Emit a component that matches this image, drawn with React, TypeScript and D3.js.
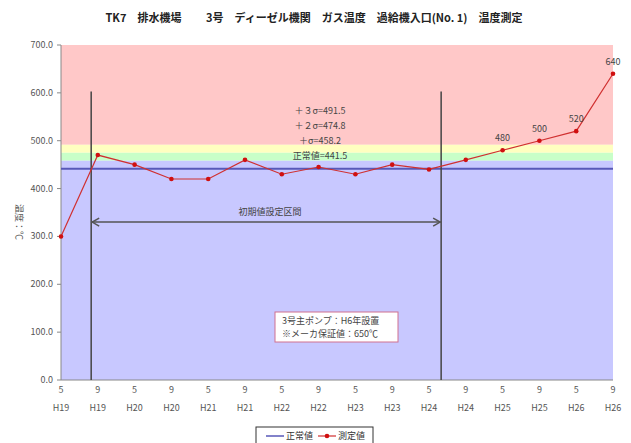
import React from "react";
import * as d3 from "d3";

const months = ["5","9","5","9","5","9","5","9","5","9","5","9","5","9","5","9"];
const years = ["H19","H19","H20","H20","H21","H21","H22","H22","H23","H23","H24","H24","H25","H25","H26","H26"];
const measured = [300,470,450,420,420,460,430,445,430,450,440,460,480,500,520,640];
const labeledIdx = [12,13,14,15];
const normalValue = 441.5;
const sigma1 = 458.2;
const sigma2 = 474.8;
const sigma3 = 491.5;
const yTicks = [0,100,200,300,400,500,600,700];
const bandTexts = ["＋３σ=491.5","＋２σ=474.8","＋σ=458.2","正常値=441.5"];
const intervalStart = 0.82;
const intervalEnd = 10.33;
const title = "TK7　排水機場　　 3号　ディーゼル機関　ガス温度　過給機入口(No. 1)　温度測定";

const W = 631, H = 443;
const FONT = "'Noto Sans CJK JP', 'Noto Sans', sans-serif";

export default function App() {
  const x = d3.scaleLinear().domain([0, measured.length - 1]).range([61, 613]);
  const y = d3.scaleLinear().domain([0, 700]).range([380, 45]);
  const line = d3.line<number>().x((_, i) => x(i)).y(d => y(d));
  const xi0 = x(intervalStart), xi1 = x(intervalEnd);
  const arrowY = y(330);
  return (
    <svg width={W} height={H} style={{ position: "absolute", left: 0, top: 0, fontFamily: FONT }}>
      <rect x={0} y={0} width={W} height={H} fill="#fff" />
      <text x={314} y={22} textAnchor="middle" fontSize={11} fontWeight="bold" fill="#222">{title}</text>
      {/* bands */}
      <rect x={x(0)} y={y(700)} width={x(15) - x(0)} height={y(sigma3) - y(700)} fill="#ffc8c8" />
      <rect x={x(0)} y={y(sigma3)} width={x(15) - x(0)} height={y(sigma2) - y(sigma3)} fill="#ffffc0" />
      <rect x={x(0)} y={y(sigma2)} width={x(15) - x(0)} height={y(sigma1) - y(sigma2)} fill="#c8ffc8" />
      <rect x={x(0)} y={y(sigma1)} width={x(15) - x(0)} height={y(0) - y(sigma1)} fill="#c8c8ff" />
      {/* axes */}
      <line x1={x(0)} x2={x(0)} y1={y(700)} y2={y(0)} stroke="#888" />
      <line x1={x(0)} x2={x(15)} y1={y(0)} y2={y(0)} stroke="#888" />
      {yTicks.map(t => (
        <g key={t}>
          <line x1={x(0) - 4} x2={x(0)} y1={y(t)} y2={y(t)} stroke="#888" />
          <text x={x(0) - 8} y={y(t) + 3} textAnchor="end" fontSize={9} fill="#555">{t.toFixed(1)}</text>
        </g>
      ))}
      {months.map((m, i) => (
        <g key={i}>
          <text x={x(i)} y={393} textAnchor="middle" fontSize={9} fill="#555">{m}</text>
          <text x={x(i)} y={411} textAnchor="middle" fontSize={9} fill="#555">{years[i]}</text>
        </g>
      ))}
      <text transform={`translate(16,${y(330)}) rotate(90)`} textAnchor="middle" fontSize={9} fill="#555">温度：℃</text>
      {/* normal line */}
      <line x1={x(0)} x2={x(15)} y1={y(normalValue)} y2={y(normalValue)} stroke="#5858b8" strokeWidth={2} />
      {/* interval lines */}
      <line x1={xi0} x2={xi0} y1={y(603)} y2={y(0)} stroke="#444" strokeWidth={1.5} />
      <line x1={xi1} x2={xi1} y1={y(603)} y2={y(0)} stroke="#444" strokeWidth={1.5} />
      <line x1={xi0} x2={xi1} y1={arrowY} y2={arrowY} stroke="#555" strokeWidth={1.5} />
      <path d={`M${xi0 + 8},${arrowY - 4} L${xi0 + 1},${arrowY} L${xi0 + 8},${arrowY + 4}`} fill="none" stroke="#555" strokeWidth={1.5} />
      <path d={`M${xi1 - 8},${arrowY - 4} L${xi1 - 1},${arrowY} L${xi1 - 8},${arrowY + 4}`} fill="none" stroke="#555" strokeWidth={1.5} />
      <text x={270} y={215} textAnchor="middle" fontSize={9} fill="#444">初期値設定区間</text>
      {bandTexts.map((t, i) => (
        <text key={i} x={320} y={114 + i * 15} textAnchor="middle" fontSize={9} fill="#444">{t}</text>
      ))}
      {/* measured */}
      <path d={line(measured) || ""} fill="none" stroke="#d03030" strokeWidth={1.2} />
      {measured.map((v, i) => (
        <circle key={i} cx={x(i)} cy={y(v)} r={2.3} fill="#d01010" />
      ))}
      {labeledIdx.map(i => (
        <text key={i} x={x(i)} y={y(measured[i]) - 9} textAnchor="middle" fontSize={9} fill="#444">{measured[i]}</text>
      ))}
      {/* note box */}
      <rect x={275} y={312} width={123} height={30} fill="#fff" stroke="#d07090" strokeWidth={1} />
      <text x={282} y={324} fontSize={9} fill="#444">3号主ポンプ：H6年設置</text>
      <text x={282} y={337} fontSize={9} fill="#444">※メーカ保証値：650℃</text>
      {/* legend */}
      <rect x={256} y={427} width={117} height={18} fill="#fff" stroke="#333" />
      <line x1={266} x2={284} y1={436} y2={436} stroke="#5858b8" strokeWidth={1.5} />
      <text x={286} y={439} fontSize={9} fill="#333">正常値</text>
      <line x1={318} x2={336} y1={436} y2={436} stroke="#d03030" strokeWidth={1.2} />
      <circle cx={327} cy={436} r={2.3} fill="#d01010" />
      <text x={338} y={439} fontSize={9} fill="#333">測定値</text>
    </svg>
  );
}
